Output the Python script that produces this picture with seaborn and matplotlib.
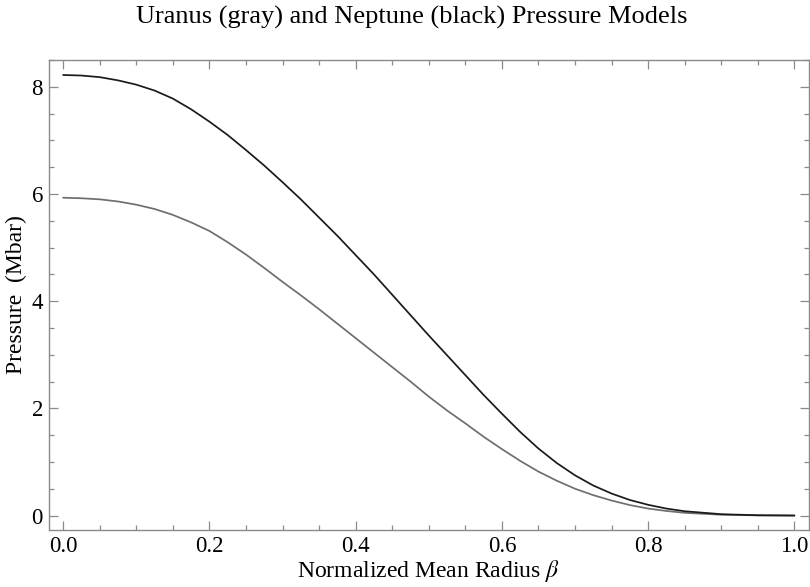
"""
Uranus / Neptune interior pressure models, redrawn with seaborn.
Saves out.png (810x587).
"""

import numpy as np
import pandas as pd
import matplotlib
matplotlib.use("Agg")
import matplotlib.pyplot as plt
import matplotlib.ticker as mticker
import seaborn as sns

# ── DATA ─────────────────────────────────────────────────────────────────────
beta = [0.000, 0.025, 0.050, 0.075, 0.100, 0.125, 0.150, 0.175, 0.200, 0.225,
        0.250, 0.275, 0.300, 0.325, 0.350, 0.375, 0.400, 0.425, 0.450, 0.475,
        0.500, 0.525, 0.550, 0.575, 0.600, 0.625, 0.650, 0.675, 0.700, 0.725,
        0.750, 0.775, 0.800, 0.825, 0.850, 0.900, 0.950, 1.000]

neptune_p = [8.22, 8.21, 8.18, 8.12, 8.04, 7.93, 7.78, 7.58, 7.35, 7.10,
             6.82, 6.53, 6.22, 5.90, 5.56, 5.22, 4.86, 4.50, 4.12, 3.74,
             3.36, 2.99, 2.62, 2.25, 1.90, 1.56, 1.25, 0.98, 0.75, 0.56,
             0.41, 0.29, 0.20, 0.13, 0.08, 0.025, 0.005, 0.0]

uranus_p = [5.93, 5.92, 5.90, 5.86, 5.80, 5.72, 5.61, 5.47, 5.31, 5.10,
            4.87, 4.62, 4.36, 4.11, 3.85, 3.58, 3.31, 3.04, 2.77, 2.50,
            2.22, 1.96, 1.72, 1.47, 1.24, 1.02, 0.82, 0.65, 0.50, 0.38,
            0.28, 0.195, 0.13, 0.085, 0.05, 0.015, 0.003, 0.0]

x_ticks = [0.0, 0.2, 0.4, 0.6, 0.8, 1.0]
y_ticks = [0, 2, 4, 6, 8]

TITLE  = "Uranus (gray) and Neptune (black) Pressure Models"
XLABEL = r"Normalized Mean Radius $\beta$"
YLABEL = "Pressure  (Mbar)"

FRAME = "#8a8a8a"

# ── STYLE ────────────────────────────────────────────────────────────────────
sns.set_theme(style="ticks")
plt.rcParams["font.family"] = ["Liberation Serif", "DejaVu Serif"]
plt.rcParams["mathtext.fontset"] = "stix"
plt.rcParams["text.color"] = "black"
plt.rcParams["axes.labelcolor"] = "black"

df = pd.concat([
    pd.DataFrame({"beta": beta, "pressure": uranus_p, "planet": "Uranus"}),
    pd.DataFrame({"beta": beta, "pressure": neptune_p, "planet": "Neptune"}),
])

fig = plt.figure(figsize=(8.1, 5.87), dpi=100)
ax = fig.add_axes([0.0599, 0.0971, 0.9389, 0.8007])

sns.lineplot(data=df, x="beta", y="pressure", hue="planet",
             palette={"Uranus": "#6e6e6e", "Neptune": "#1a1a1a"},
             linewidth=1.25, legend=False, ax=ax)

ax.set_xlim(-0.02, 1.02)
ax.set_ylim(-0.27, 8.5)
ax.set_xticks(x_ticks)
ax.set_yticks(y_ticks)
ax.xaxis.set_major_formatter(mticker.FormatStrFormatter("%.1f"))
ax.xaxis.set_minor_locator(mticker.MultipleLocator(0.05))
ax.yaxis.set_minor_locator(mticker.MultipleLocator(0.5))

ax.tick_params(which="both", direction="in", top=True, right=True,
               color=FRAME, width=0.9, labelsize=16.5, labelcolor="black",
               pad=4)
ax.tick_params(which="major", length=6.5)
ax.tick_params(which="minor", length=3.5)
for sp in ax.spines.values():
    sp.set_color(FRAME)
    sp.set_linewidth(1.0)

ax.set_xlabel(XLABEL, fontsize=17, labelpad=1)
ax.set_ylabel(YLABEL, fontsize=17, labelpad=3)
fig.suptitle(TITLE, fontsize=19, x=0.508, y=0.99, va="top")

fig.savefig("out.png", dpi=100)
